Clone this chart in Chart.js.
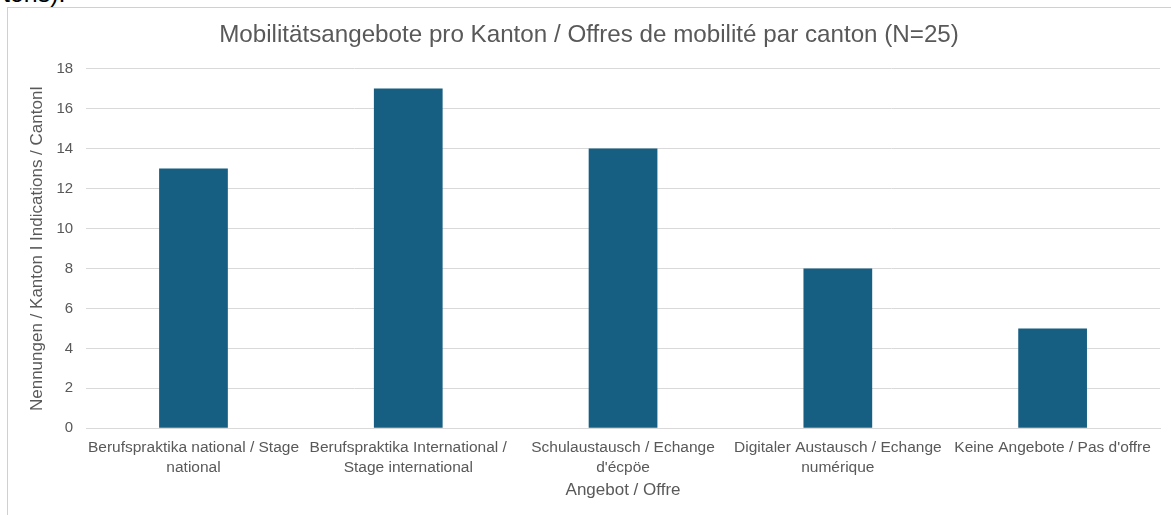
<!DOCTYPE html>
<html lang="de">
<head>
<meta charset="UTF-8"/>
<script src="https://cdn.jsdelivr.net/npm/chart.js"></script>
<style>
    html, body { margin: 0; padding: 0; background: #fff; overflow: hidden; }
    body { width: 1171px; height: 515px; position: relative; font-family: Arial, 'Liberation Sans', sans-serif; }
    #cut { position: absolute; left: 3px; top: -21px; font-size: 25px; color: #000; white-space: nowrap; }
    #box { position: absolute; left: 7px; top: 7px; width: 1170px; height: 520px; border-left: 1px solid #d0d0d0; border-top: 1px solid #d0d0d0; }
    #wrap { position: absolute; left: 8px; top: 8px; width: 1163px; height: 507px; }
</style>
</head>
<body>
<div id="cut">tons).</div>
<div id="box"></div>
<div id="wrap"><canvas id="mobChart"></canvas></div>
<script>
    const categories = [
        ['Berufspraktika national / Stage', 'national'],
        ['Berufspraktika International /', 'Stage international'],
        ['Schulaustausch / Echange', "d'écpöe"],
        ['Digitaler Austausch / Echange', 'numérique'],
        ["Keine Angebote / Pas d'offre"]
    ];
    const values = [13, 17, 14, 8, 5];
    const yMin = 0, yMax = 18, yStep = 2;

    const grey = '#595959';
    const font = "Arial, 'Liberation Sans', sans-serif";

    const config = {
        type: 'bar',
        data: {
            labels: categories,
            datasets: [{
                label: 'Nennungen',
                data: values,
                backgroundColor: '#175f82',
                barPercentage: 0.32,
                categoryPercentage: 1
            }]
        },
        options: {
            responsive: true,
            maintainAspectRatio: false,
            animation: false,
            layout: { padding: { left: 10, right: 11, top: 5, bottom: 14 } },
            plugins: {
                legend: { display: false },
                tooltip: { enabled: false },
                title: {
                    display: true,
                    text: 'Mobilitätsangebote pro Kanton / Offres de mobilité par canton (N=25)',
                    color: grey,
                    font: { family: font, size: 24.2, weight: 'normal' },
                    padding: { top: 8, bottom: 18.6 }
                }
            },
            scales: {
                x: {
                    grid: { display: false, drawTicks: false },
                    border: { color: '#d9d9d9' },
                    ticks: {
                        color: grey, autoSkip: false, maxRotation: 0, minRotation: 0, padding: 9,
                        font: { family: font, size: 15.5, lineHeight: 1.3 }
                    },
                    title: {
                        display: true, text: 'Angebot / Offre', color: grey,
                        font: { family: font, size: 17 }, padding: { top: -6, bottom: 0 }
                    }
                },
                y: {
                    min: yMin, max: yMax,
                    grid: { color: '#d9d9d9', drawTicks: false },
                    border: { display: false },
                    ticks: {
                        stepSize: yStep, color: grey, padding: 13,
                        font: { family: font, size: 15 }
                    },
                    title: {
                        display: true, text: 'Nennungen / Kanton I Indications / CantonI', color: grey,
                        font: { family: font, size: 17 }, padding: { top: 9, bottom: -4 }
                    }
                }
            }
        }
    };

    const ctx = document.getElementById('mobChart');
    const mobChart = new Chart(ctx, config);
</script>
</body>
</html>
